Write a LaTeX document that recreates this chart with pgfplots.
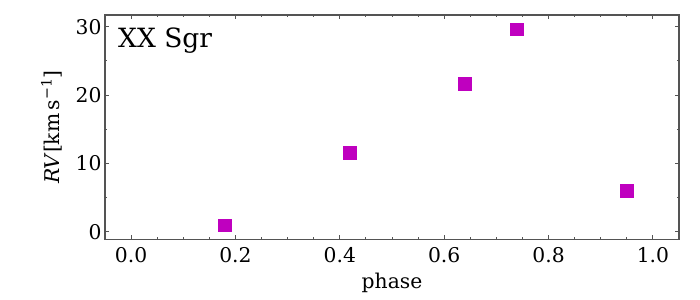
\documentclass[border=0pt]{standalone}
\usepackage{fontspec}
\setmainfont{DejaVu Serif}
\usepackage{pgfplots}
\pgfplotsset{compat=1.18}
\definecolor{mag}{rgb}{0.75,0,0.75}
\definecolor{axgray}{gray}{0.33}
\begin{document}
\begin{tikzpicture}
\useasboundingbox (-105bp,-60.7bp) rectangle (595bp,239.3bp);
\begin{axis}[
  at={(0,0)}, anchor=south west,
  width=574bp, height=224.3bp, scale only axis,
  xmin=-0.05, xmax=1.05, ymin=-1.1, ymax=31.7,
  xtick={0,0.2,0.4,0.6,0.8,1.0}, ytick={0,10,20,30},
  minor x tick num=3, minor y tick num=1,
  tick align=inside, tick pos=both, ticklabel pos=left,
  major tick length=4bp, minor tick length=2bp,
  axis line style={axgray, line width=1.2bp},
  every tick/.style={axgray, line width=0.9bp},
  /pgf/number format/assume math mode=true,
  tick label style={font=\fontsize{20.3bp}{24bp}\selectfont},
  label style={font=\fontsize{20.3bp}{24bp}\selectfont},
  xticklabel style={/pgf/number format/.cd, fixed, fixed zerofill, precision=1},
  yticklabel style={/pgf/number format/.cd, fixed, precision=0},
  xticklabel shift=5bp,
  xlabel shift=3bp,
  ylabel shift=7bp,
  xlabel={phase},
  ylabel={\textit{RV}[km\,s\textsuperscript{−1}]},
  clip=false,
]
\addplot[only marks, mark=square*, mark size=6.3bp,
  mark options={fill=mag, draw=mag, line width=0pt}]
  coordinates {
  (0.18,0.94)
  (0.42,11.5)
  (0.64,21.6)
  (0.74,29.6)
  (0.95,6.0)
  };
\node[anchor=base west, inner sep=0pt, font=\fontsize{26.5bp}{30bp}\selectfont]
  at ([xshift=13bp,yshift=-32.7bp]rel axis cs:0,1) {XX Sgr};
\end{axis}
\end{tikzpicture}
\end{document}
